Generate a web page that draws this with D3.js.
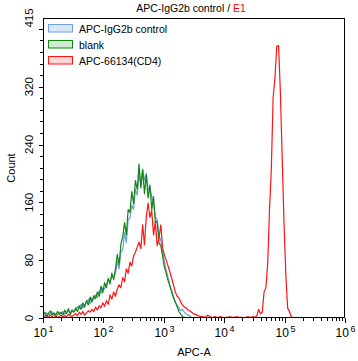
<!DOCTYPE html>
<html><head><meta charset="utf-8">
<script src="https://cdn.jsdelivr.net/npm/d3@7"></script>
<style>body{margin:0;background:#fff}svg{display:block}text{font-family:"Liberation Sans",Arial,sans-serif}</style>
</head><body>
<svg id="c" width="358" height="361"></svg>
<script>
// ---- data ----
const titleMain = "APC-IgG2b control / ";
const titleTag = "E1";
const xLabel = "APC-A";
const yLabel = "Count";
const seriesNames = ["APC-IgG2b control", "blank", "APC-66134(CD4)"];
const xTickExponents = [1, 2, 3, 4, 5, 6];
const yMajorTicks = [0, 80, 160, 240, 320, 400];
const yTickLabels = [0, 80, 160, 240, 320];
const yMax = 415;
const binStart = 1;     // log10 of first channel
const binWidth = 0.03;  // log10 width of a channel

const blueCounts = [
  5,2,7,4,6,9,3,6,4,8,6,
  9,5,8,11,7,12,9,
  11,16,13,19,14,18,
  22,26,20,28,25,
  32,28,38,34,42,40,
  47,52,50,58,56,
  62,78,68,92,
  94,118,104,136,
  138,156,150,178,
  170,200,184,
  206,190,200,178,
  180,168,158,140,
  136,114,108,
  92,78,66,56,
  46,38,30,22,
  18,14,10,12,
  8,6,4,3,1,0,0
];
const greenCounts = [
  3,8,2,6,10,4,7,3,9,5,8,
  4,11,6,13,5,10,8,
  14,9,17,12,21,15,
  24,18,29,22,31,
  27,36,30,44,35,49,
  42,55,47,62,53,
  68,88,74,102,
  112,132,115,150,
  146,175,158,190,
  178,213,180,
  205,172,198,166,
  184,150,168,132,
  134,104,100,
  86,70,62,52,
  44,36,28,22,
  16,9,5,
  2,1,0,0
];
const redCounts = [
  2,0,3,1,4,2,0,3,1,2,4,1,3,2,5,3,2,4,
  6,3,8,5,9,4,7,10,
  8,12,9,15,11,
  17,14,21,16,24,19,
  32,26,36,30,40,46,
  42,56,50,68,62,
  77,72,86,91,98,
  105,96,129,101,140,
  159,139,149,115,133,
  100,110,129,97,
  87,80,72,64,
  55,46,36,30,
  28,22,18,15,14,
  11,10,8,6,5,4,
  3,2,2,1,2,4,2,1,1,2,
  1,1,2,1,0,1,1,2,1,1,
  1,2,1,1,1,0,1,2,1,1,
  2,1,3,12,6,8,36,42,75,150,205,305,332,376,377,312,222,132,60,14,9,2,0
];

// ---- styles ----
const lineColors = ["#6f9ee3", "#118511", "#ff1414"];
const fillColors = ["#dce7f6", "#d3ead3", "#ffd6d6"];

const svg = d3.select("#c");
const L = 43, R = 345, T = 18, B = 318;
const x = d3.scaleLog().domain([10, 1e6]).range([L, R]);
const y = d3.scaleLinear().domain([0, yMax]).range([B, T]);

// clip
svg.append("clipPath").attr("id","clip").append("rect")
  .attr("x", L).attr("y", T).attr("width", R - L).attr("height", B - T);

const toPoints = arr => arr.map((c, i) => [Math.pow(10, binStart + binWidth * i), c]);
const line = d3.line().x(d => x(d[0])).y(d => y(d[1]));

const g = svg.append("g").attr("clip-path", "url(#clip)");
[blueCounts, greenCounts, redCounts].forEach((arr, k) => {
  g.append("path").attr("d", line(toPoints(arr)))
    .attr("fill", "none").attr("stroke", lineColors[k])
    .attr("stroke-width", 1.2).attr("stroke-linejoin", "round");
});

// frame
svg.append("rect").attr("x", L + 0.5).attr("y", T + 0.5)
  .attr("width", R - L - 1).attr("height", B - T - 1)
  .attr("fill", "none").attr("stroke", "#000").attr("stroke-width", 1);

// x ticks
const xMinor = [];
for (let e = 1; e < 6; e++) for (let m = 2; m <= 9; m++) xMinor.push(m * Math.pow(10, e));
const xa = svg.append("g");
xMinor.forEach(v => {
  xa.append("line").attr("x1", Math.round(x(v)) + 0.5).attr("x2", Math.round(x(v)) + 0.5)
    .attr("y1", B).attr("y2", B + 3).attr("stroke", "#000");
});
xTickExponents.forEach(e => {
  const px = Math.round(x(Math.pow(10, e))) + 0.5;
  xa.append("line").attr("x1", px).attr("x2", px).attr("y1", B).attr("y2", B + 5).attr("stroke", "#000");
  const t = xa.append("text").attr("x", px).attr("y", 337).attr("text-anchor", "middle")
    .attr("font-size", 12).attr("fill", "#000");
  t.append("tspan").text("10");
  t.append("tspan").attr("font-size", 9).attr("dx", 1.5).attr("dy", -5).text(e);
});

// y ticks
const ya = svg.append("g");
for (let v = 0; v <= 400; v += 16) {
  const major = yMajorTicks.includes(v);
  const py = Math.round(y(v)) + 0.5;
  ya.append("line").attr("x1", L - (major ? 4 : 3)).attr("x2", L).attr("y1", py).attr("y2", py).attr("stroke", "#000");
}
yTickLabels.concat([yMax]).forEach(v => {
  const py = y(v);
  ya.append("text").attr("transform", `translate(33,${py}) rotate(-90)`)
    .attr("text-anchor", "middle").attr("font-size", 11.5).attr("fill", "#000").text(v);
});

// axis titles
svg.append("text").attr("transform", `translate(15,${(T + B) / 2}) rotate(-90)`)
  .attr("text-anchor", "middle").attr("font-size", 11).text(yLabel);
svg.append("text").attr("x", (L + R) / 2).attr("y", 356).attr("text-anchor", "middle")
  .attr("font-size", 11).text(xLabel);

// title
const tt = svg.append("text").attr("x", 191).attr("y", 12).attr("text-anchor", "middle").attr("font-size", 10.5);
tt.append("tspan").attr("fill", "#000").text(titleMain);
tt.append("tspan").attr("fill", "#ff0000").text(titleTag);

// legend
seriesNames.forEach((name, k) => {
  const yy = 24.5 + k * 16;
  svg.append("rect").attr("x", 48.5).attr("y", yy).attr("width", 24).attr("height", 7.5)
    .attr("fill", fillColors[k]).attr("stroke", lineColors[k]).attr("stroke-width", 1);
  svg.append("text").attr("x", 79).attr("y", yy + 8).attr("font-size", 10.5).attr("fill", "#000").text(name);
});
</script>
</body></html>
